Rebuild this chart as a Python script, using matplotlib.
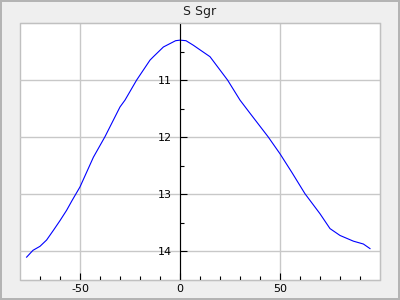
import matplotlib
matplotlib.use("Agg")
import matplotlib.pyplot as plt
from matplotlib.patches import Rectangle

# phase (days) vs magnitude
phase = [-76.7, -73.5, -70, -66.7, -63.3, -60, -56.7, -54, -50, -43.3, -37.5, -30,
         -27.5, -21.7, -15, -13.3, -8.3, -2.2, 0, 3, 6.7, 10, 15, 23.8, 30, 35,
         44, 50, 56, 62.5, 70, 75, 80, 86.7, 91.7, 95]
mag = [14.10, 13.98, 13.91, 13.80, 13.63, 13.46, 13.28, 13.11, 12.87, 12.35, 11.99, 11.47,
       11.35, 11.00, 10.65, 10.59, 10.42, 10.31, 10.30, 10.31, 10.39, 10.47, 10.59, 11.00, 11.35, 11.58,
       11.99, 12.29, 12.62, 12.99, 13.34, 13.60, 13.72, 13.82, 13.87, 13.95]
x_major = [-50, 0, 50]
x_minor = [-70, -60, -40, -30, -20, -10, 10, 20, 30, 40, 60, 70, 80, 90]
y_major = [11, 12, 13, 14]
y_minor = [10.5, 11.5, 12.5, 13.5]
title = "S Sgr"

plt.rcParams['axes.unicode_minus'] = False
grey = '#c0c0c0'

fig = plt.figure(figsize=(4, 3), dpi=100, facecolor='#efefef', edgecolor='#b4b4b4', linewidth=1.5)
ax = fig.add_axes([20/400, 20/300, 360/400, 257/300])

ax.plot(phase, mag, color='#0000ff', linewidth=0.8)
ax.set_xlim(-80, 100)
ax.set_ylim(14.5, 10.0)

ax.set_xticks(x_major)
ax.set_xticks(x_minor, minor=True)
ax.set_yticks(y_major)
ax.set_yticks(y_minor, minor=True)

ax.grid(True, which='major', color='#c8c8c8', linewidth=1)
ax.set_axisbelow(True)

for s in ['top', 'right', 'bottom']:
    ax.spines[s].set_color(grey)
ax.spines['left'].set_position(('data', 0))
ax.spines['left'].set_color('black')
ax.add_patch(Rectangle((0, 0), 1, 1, transform=ax.transAxes, fill=False,
                       edgecolor=grey, linewidth=1, zorder=0.5, clip_on=False))

ax.tick_params(axis='both', which='major', direction='in', length=5, width=0.8,
               labelsize=8, color='black')
ax.tick_params(axis='both', which='minor', direction='in', length=3, width=0.8, color='black')
ax.tick_params(axis='x', pad=3)
ax.tick_params(axis='y', pad=6)

ax.set_title(title, fontsize=9, pad=6, color='#202020')

fig.savefig('out.png', dpi=100, facecolor=fig.get_facecolor(), edgecolor=fig.get_edgecolor())
